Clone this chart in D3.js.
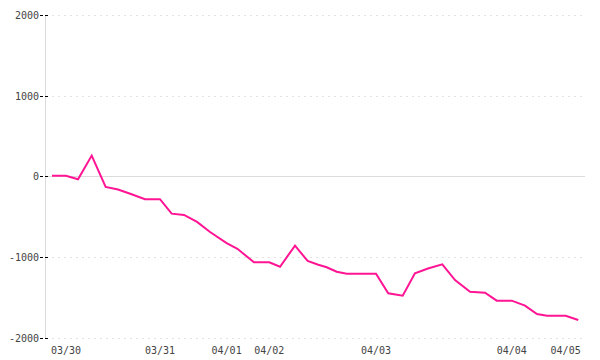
<!DOCTYPE html>
<html lang="en">
<head>
  <meta charset="UTF-8" />
  <title>Line chart</title>
  <script src="https://d3js.org/d3.v7.min.js"></script>
  <style>
    body {
      margin: 0;
      padding: 0;
      background: #fff;
    }
    .tick-label {
      font-family: "DejaVu Sans Mono", monospace;
      font-size: 10px;
      fill: #444;
    }
  </style>
</head>
<body>
  <div id="chart"></div>

  <script>
    // x position of each sample (sample slots) and its value
    const positions = [0, 1.06, 1.98, 3.02, 4.08, 5.02, 6.0, 7.07, 8.21, 9.1,
      10.04, 11.03, 12.02, 13.28, 14.1, 15.36, 16.52, 17.34, 18.48, 19.44,
      20.25, 20.89, 21.65, 22.41, 23.5, 24.64, 25.57, 26.67, 27.6, 28.59,
      29.68, 30.65, 31.79, 32.93, 33.82, 34.96, 35.97, 36.88, 37.64, 39.06, 40.02];
    const values = [5, 5, -37, 256, -133, -164, -220, -285, -285, -464,
      -480, -567, -691, -830, -900, -1067, -1067, -1122, -861, -1051,
      -1097, -1129, -1184, -1208, -1208, -1208, -1452, -1481, -1203, -1144,
      -1092, -1287, -1432, -1444, -1543, -1543, -1605, -1708, -1730, -1730, -1783];

    // samples that carry a date label
    const labelIndex = [1, 8, 13, 16, 25, 35, 39];
    const labelText = ["03/30", "03/31", "04/01", "04/02", "04/03", "04/04", "04/05"];

    const yTicks = [2000, 1000, 0, -1000, -2000];

    const width = 600;
    const height = 360;

    const svg = d3.select("#chart")
      .append("svg")
      .attr("width", width)
      .attr("height", height);

    const x = d3.scaleLinear()
      .domain([0, 40])
      .range([52, 578]);

    const y = d3.scaleLinear()
      .domain([-2000, 2000])
      .range([337.5, 15]);

    // grid lines (solid at zero, dotted elsewhere)
    svg.append("g")
      .selectAll("line")
      .data(yTicks)
      .enter()
      .append("line")
      .attr("x1", 46)
      .attr("x2", 585)
      .attr("y1", d => Math.round(y(d)) + 0.5)
      .attr("y2", d => Math.round(y(d)) + 0.5)
      .attr("stroke", d => d === 0 ? "#dcdcdc" : "#e2e2e2")
      .attr("stroke-dasharray", d => d === 0 ? null : "2,4")
      .attr("stroke-width", 1);

    // y axis line
    svg.append("line")
      .attr("x1", 45.5)
      .attr("x2", 45.5)
      .attr("y1", 15)
      .attr("y2", 339)
      .attr("stroke", "#dcdcdc");

    // y ticks
    const yTick = svg.append("g")
      .selectAll("g")
      .data(yTicks)
      .enter()
      .append("g")
      .attr("transform", d => `translate(0,${Math.round(y(d)) + 0.5})`);

    yTick.append("line")
      .attr("x1", 40)
      .attr("x2", 48)
      .attr("stroke", "#000")
      .attr("stroke-dasharray", "3,2");

    yTick.append("text")
      .attr("class", "tick-label")
      .attr("x", 39)
      .attr("dy", "0.35em")
      .attr("text-anchor", "end")
      .text(d => d);

    // x labels
    svg.append("g")
      .selectAll("text")
      .data(labelIndex)
      .enter()
      .append("text")
      .attr("class", "tick-label")
      .attr("x", (d, i) => x(positions[d]))
      .attr("y", 353.5)
      .attr("text-anchor", "middle")
      .text((d, i) => labelText[i]);

    // the line
    const line = d3.line()
      .x((d, i) => x(positions[i]))
      .y(d => y(d));

    svg.append("path")
      .datum(values)
      .attr("fill", "none")
      .attr("stroke", "#ff1493")
      .attr("stroke-width", 2)
      .attr("d", line);
  </script>
</body>
</html>
